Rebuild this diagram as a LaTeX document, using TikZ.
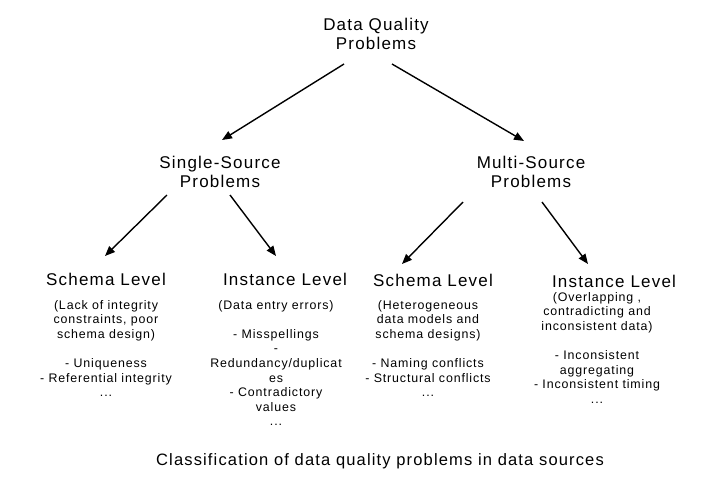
\documentclass[tikz,border=0pt]{standalone}
\usepackage{fontspec}
\setmainfont{Liberation Sans}[LetterSpace=7]
\usetikzlibrary{arrows.meta}
\tikzset{
  tbox/.style={align=center,inner sep=0pt,font=\fontsize{17}{19}\selectfont},
  nbox/.style={align=center,inner sep=0pt,anchor=north,font=\fontsize{12.4}{14.6}\selectfont},
  arr/.style={-{Triangle[length=10pt,width=8pt]},line width=1.4pt},
}
\begin{document}
\begin{tikzpicture}[x=1pt,y=-1pt]
    \useasboundingbox[fill=white] (0,0) rectangle (726,488);

    % levels of the tree
    \node[tbox] (dq) at (376,34) {Data Quality\\Problems};
    \node[tbox] (ss) at (220,172) {Single-Source\\Problems};
    \node[tbox] (ms) at (531,172) {Multi-Source\\Problems};

    \node[tbox] (sl1) at (106,279) {Schema Level};
    \node[tbox] (il1) at (285,279) {Instance Level};
    \node[tbox] (sl2) at (433,280) {Schema Level};
    \node[tbox] (il2) at (614,281) {Instance Level};

    % descriptions
    \node[nbox] (n1) at (106,300) {(Lack of integrity\\constraints, poor\\schema design)\\[14.6pt]- Uniqueness\\- Referential integrity\\...};
    \node[nbox] (n2) at (276,300) {(Data entry errors)\\[14.6pt]- Misspellings\\-\\Redundancy/duplicat\\es\\- Contradictory\\values\\...};
    \node[nbox] (n3) at (428,300) {(Heterogeneous\\data models and\\schema designs)\\[14.6pt]- Naming conflicts\\- Structural conflicts\\...};
    \node[nbox] (n4) at (597,292) {(Overlapping ,\\contradicting and\\inconsistent data)\\[14.6pt]- Inconsistent\\aggregating\\- Inconsistent timing\\...};

    \node[font=\fontsize{16.5}{19}\selectfont,inner sep=0pt] (cap) at (380,461) {Classification of data quality problems in data sources};

    % arrows
    \draw[arr] ([shift={(-32,30)}]dq.center) -- ([shift={(2,-32)}]ss.center);
    \draw[arr] ([shift={(16,30)}]dq.center) -- ([shift={(-7,-31)}]ms.center);
    \draw[arr] ([shift={(-53,23)}]ss.center) -- ([shift={(-1,-23)}]sl1.center);
    \draw[arr] ([shift={(10,23)}]ss.center) -- ([shift={(-9,-23)}]il1.center);
    \draw[arr] ([shift={(-68,30)}]ms.center) -- ([shift={(-31,-16)}]sl2.center);
    \draw[arr] ([shift={(11,30)}]ms.center) -- ([shift={(-26,-17)}]il2.center);
\end{tikzpicture}
\end{document}
